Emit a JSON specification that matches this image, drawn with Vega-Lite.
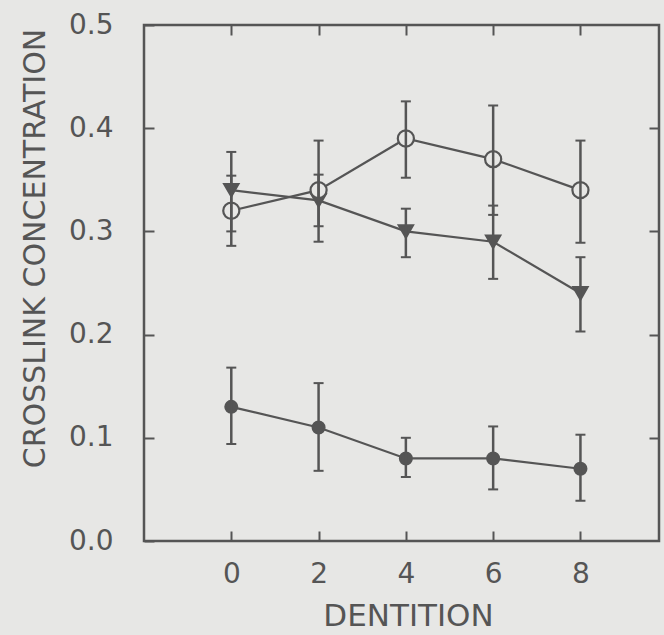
{
  "$schema": "https://vega.github.io/schema/vega-lite/v6.json",
  "width": 515,
  "height": 516,
  "autosize": "none",
  "padding": {"left": 144, "top": 25, "right": 5, "bottom": 94},
  "background": "#e7e7e5",
  "config": {
    "view": {"stroke": "#555555", "strokeWidth": 2.5},
    "axis": {
      "domain": false,
      "grid": false,
      "tickColor": "#555555",
      "tickWidth": 2,
      "tickSize": -10,
      "labelFont": "DejaVu Sans",
      "labelFontSize": 28,
      "labelColor": "#555555",
      "titleFont": "DejaVu Sans",
      "titleFontWeight": "normal",
      "titleColor": "#555555"
    }
  },
  "data": {
    "values": [
      {"dentition": 0, "series": "A", "mean": 0.13, "lo": 0.094, "hi": 0.168},
      {"dentition": 2, "series": "A", "mean": 0.11, "lo": 0.068, "hi": 0.153},
      {"dentition": 4, "series": "A", "mean": 0.08, "lo": 0.062, "hi": 0.100},
      {"dentition": 6, "series": "A", "mean": 0.08, "lo": 0.050, "hi": 0.111},
      {"dentition": 8, "series": "A", "mean": 0.07, "lo": 0.039, "hi": 0.103},
      {"dentition": 0, "series": "B", "mean": 0.34, "lo": 0.300, "hi": 0.377},
      {"dentition": 2, "series": "B", "mean": 0.33, "lo": 0.305, "hi": 0.355},
      {"dentition": 4, "series": "B", "mean": 0.30, "lo": 0.275, "hi": 0.322},
      {"dentition": 6, "series": "B", "mean": 0.29, "lo": 0.254, "hi": 0.325},
      {"dentition": 8, "series": "B", "mean": 0.24, "lo": 0.203, "hi": 0.275},
      {"dentition": 0, "series": "C", "mean": 0.32, "lo": 0.286, "hi": 0.354},
      {"dentition": 2, "series": "C", "mean": 0.34, "lo": 0.290, "hi": 0.388},
      {"dentition": 4, "series": "C", "mean": 0.39, "lo": 0.352, "hi": 0.426},
      {"dentition": 6, "series": "C", "mean": 0.37, "lo": 0.316, "hi": 0.422},
      {"dentition": 8, "series": "C", "mean": 0.34, "lo": 0.289, "hi": 0.388}
    ]
  },
  "layer": [
    {
      "mark": {"type": "line", "color": "#555555", "strokeWidth": 2.2},
      "encoding": {
        "x": {
          "field": "dentition", "type": "quantitative",
          "scale": {"domain": [-2, 9.8], "nice": false, "zero": false},
          "axis": {
            "orient": "bottom", "values": [0, 2, 4, 6, 8], "labelPadding": 29,
            "title": "DENTITION", "titleFontSize": 31, "titleBaseline": "alphabetic",
            "titleX": 264, "titleY": 84
          }
        },
        "y": {
          "field": "mean", "type": "quantitative",
          "scale": {"domain": [0, 0.5], "nice": false},
          "axis": {
            "orient": "left", "values": [0, 0.1, 0.2, 0.3, 0.4, 0.5], "format": ".1f",
            "labelPadding": 41,
            "title": "CROSSLINK CONCENTRATION", "titleFontSize": 30,
            "titleBaseline": "middle", "titleX": -109, "titleY": 223, "titleAngle": 270
          }
        },
        "detail": {"field": "series"}
      }
    },
    {
      "mark": {"type": "point", "filled": true, "stroke": "#555555", "strokeWidth": 2.2, "opacity": 1},
      "encoding": {
        "x": {"field": "dentition", "type": "quantitative", "axis": {"orient": "top", "values": [0, 2, 4, 6, 8], "labels": false, "title": null}},
        "y": {"field": "mean", "type": "quantitative", "axis": {"orient": "right", "values": [0.1, 0.2, 0.3, 0.4], "labels": false, "title": null}},
        "shape": {"field": "series", "type": "nominal", "scale": {"domain": ["A", "B", "C"], "range": ["circle", "triangle-down", "circle"]}, "legend": null},
        "fill": {"field": "series", "type": "nominal", "scale": {"domain": ["A", "B", "C"], "range": ["#555555", "#555555", "#e7e7e5"]}, "legend": null},
        "size": {"field": "series", "type": "nominal", "scale": {"domain": ["A", "B", "C"], "range": [140, 260, 190]}, "legend": null}
      }
    },
    {
      "mark": {"type": "rule", "color": "#555555", "strokeWidth": 2.5},
      "encoding": {
        "x": {"field": "dentition", "type": "quantitative", "axis": null},
        "y": {"field": "lo", "type": "quantitative", "axis": null},
        "y2": {"field": "hi"}
      }
    },
    {
      "mark": {"type": "tick", "orient": "horizontal", "color": "#555555", "size": 10, "thickness": 2, "opacity": 1},
      "encoding": {
        "x": {"field": "dentition", "type": "quantitative", "axis": null},
        "y": {"field": "lo", "type": "quantitative", "axis": null}
      }
    },
    {
      "mark": {"type": "tick", "orient": "horizontal", "color": "#555555", "size": 10, "thickness": 2, "opacity": 1},
      "encoding": {
        "x": {"field": "dentition", "type": "quantitative", "axis": null},
        "y": {"field": "hi", "type": "quantitative", "axis": null}
      }
    }
  ],
  "resolve": {"axis": {"x": "independent", "y": "independent"}}
}
